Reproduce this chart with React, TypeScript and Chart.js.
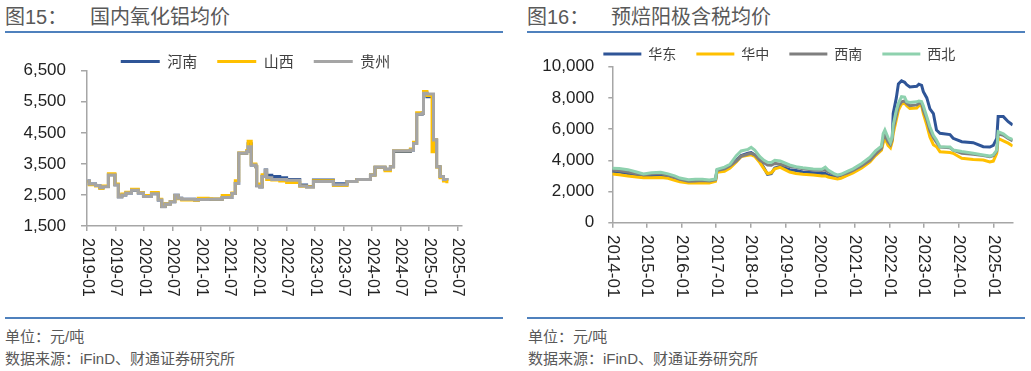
import React, { useEffect, useRef } from 'react';
import { Chart, registerables } from 'chart.js';

Chart.register(...registerables);

// ---------------- 图15 国内氧化铝均价 (元/吨) ----------------
const aluminaTickLabels = [
  '2019-01', '2019-07', '2020-01', '2020-07', '2021-01', '2021-07', '2022-01',
  '2022-07', '2023-01', '2023-07', '2024-01', '2024-07', '2025-01', '2025-07',
];
const aluminaYTicks = [1500, 2500, 3500, 4500, 5500, 6500];
// decimal years of price changes
const aluminaDates = [
  2019.01, 2019.04, 2019.15, 2019.225, 2019.28, 2019.375, 2019.49, 2019.55, 2019.61, 2019.68,
  2019.78, 2019.9, 2019.99, 2020.13, 2020.25, 2020.31, 2020.37, 2020.46, 2020.54, 2020.6,
  2020.66, 2020.89, 2020.95, 2021.125, 2021.19, 2021.37, 2021.54, 2021.6, 2021.66, 2021.8,
  2021.825, 2021.88, 2021.96, 2021.975, 2022.03, 2022.07, 2022.125, 2022.15, 2022.24, 2022.38,
  2022.5, 2022.73, 2022.85, 2022.97, 2023.32, 2023.56, 2023.73, 2023.97, 2024.05, 2024.225,
  2024.32, 2024.375, 2024.67, 2024.725, 2024.78, 2024.875, 2024.9, 2024.96, 2025.05, 2025.075,
  2025.13, 2025.19, 2025.25, 2025.31,
];
const henanPrices = [
  2950, 2850, 2800, 2730, 2770, 3150, 2830, 2440, 2500, 2560,
  2650, 2560, 2460, 2540, 2340, 2130, 2210, 2280, 2490, 2390,
  2360, 2340, 2350, 2360, 2360, 2420, 2550, 2880, 3840, 3900,
  4150, 3460, 3410, 2800, 2760, 3100, 3300, 3130, 3090, 3050,
  3000, 2820, 2770, 2980, 2860, 2930, 3000, 3140, 3390, 3330,
  3410, 3900, 3950, 4160, 5100, 5130, 5780, 5660, 5700, 4270,
  3410, 3090, 3000, 2960,
];
const shanxiPrices = [
  2930, 2830, 2790, 2710, 2790, 3180, 2850, 2450, 2530, 2590,
  2680, 2580, 2480, 2580, 2360, 2150, 2220, 2290, 2470, 2380,
  2340, 2320, 2390, 2380, 2370, 2480, 2560, 2960, 3850, 3930,
  4230, 3500, 3420, 2850, 2780, 3150, 3200, 3000, 2980, 2950,
  2900, 2780, 2760, 2960, 2800, 2930, 3000, 3140, 3390, 3280,
  3410, 3920, 3980, 4200, 5150, 5150, 5830, 5700, 3890, 4270,
  3400, 3050, 2950, 2880,
];
const guizhouPrices = [
  2960, 2850, 2800, 2730, 2760, 3140, 2820, 2430, 2500, 2560,
  2650, 2560, 2450, 2540, 2340, 2120, 2210, 2280, 2490, 2390,
  2360, 2340, 2350, 2360, 2360, 2420, 2550, 2870, 3840, 3900,
  4050, 3460, 3410, 2790, 2750, 3090, 3300, 3050, 3000, 3000,
  2970, 2790, 2750, 2930, 2830, 2930, 3000, 3140, 3390, 3330,
  3410, 3920, 3950, 4160, 5100, 5130, 5770, 5750, 5750, 4270,
  3410, 3090, 3000, 2980,
];

// ---------------- 图16 预焙阳极含税均价 (元/吨) ----------------
const anodeTickLabels = [
  '2014-01', '2015-01', '2016-01', '2017-01', '2018-01', '2019-01',
  '2020-01', '2021-01', '2022-01', '2023-01', '2024-01', '2025-01',
];
const anodeYTicks = [0, 2000, 4000, 6000, 8000, 10000];
const anodeDates = [
  2014.0, 2014.2, 2014.45, 2014.7, 2014.9, 2015.13, 2015.4, 2015.61, 2015.8, 2015.95,
  2016.2, 2016.4, 2016.6, 2016.8, 2016.98, 2017.02, 2017.24, 2017.4, 2017.58, 2017.72,
  2017.92, 2018.01, 2018.11, 2018.26, 2018.38, 2018.48, 2018.59, 2018.69, 2018.85, 2019.12,
  2019.3, 2019.5, 2019.8, 2020.05, 2020.15, 2020.23, 2020.4, 2020.5, 2020.6, 2020.8,
  2020.95, 2021.2, 2021.44, 2021.6, 2021.77, 2021.82, 2021.87, 2021.96, 2022.03, 2022.08,
  2022.11, 2022.2, 2022.26, 2022.35, 2022.44, 2022.5, 2022.59, 2022.79, 2022.85, 2022.93,
  2022.98, 2023.08, 2023.17, 2023.27, 2023.36, 2023.46, 2023.75, 2023.84, 2024.09, 2024.42,
  2024.71, 2024.9, 2025.0, 2025.1, 2025.14, 2025.29, 2025.43, 2025.56,
];
const eastChina = [
  3300, 3250, 3150, 3050, 3000, 3020, 3050, 2950, 2850, 2700,
  2600, 2620, 2630, 2600, 2700, 3300, 3450, 3650, 4000, 4300,
  4450, 4500, 4350, 3950, 3500, 3100, 3150, 3500, 3600, 3400,
  3350, 3250, 3200, 3150, 3150, 3050, 2950, 2850, 2900, 3100,
  3300, 3600, 4000, 4400, 4700, 5300, 5600, 5100, 4950, 5300,
  7000, 8000, 8900, 9100, 9000, 8850, 8700, 8750, 8880, 8800,
  8400, 8000, 7300, 7000, 5940, 5730, 5650, 5410, 5190, 5130,
  4870, 4850, 4950, 5410, 6800, 6800, 6475, 6263,
];
const centralChina = [
  3120, 3080, 3000, 2930, 2880, 2880, 2900, 2850, 2720, 2620,
  2540, 2550, 2560, 2540, 2650, 3230, 3300, 3500, 3900, 4250,
  4330, 4350, 4250, 3850, 3450, 3150, 3200, 3450, 3550, 3250,
  3150, 3100, 3050, 3000, 3000, 2930, 2850, 2800, 2850, 3050,
  3200, 3500, 3900, 4300, 4650, 5100, 5450, 4950, 4800, 5200,
  5700, 6600, 7200, 7600, 7650, 7500, 7330, 7350, 7500, 7500,
  7000, 6260, 5500, 5000, 4870, 4550, 4500, 4450, 4130, 4050,
  4020, 3900, 3950, 4450, 5400, 5250, 5100, 4916,
];
const southwest = [
  3380, 3330, 3250, 3130, 3080, 3120, 3150, 3030, 2900, 2780,
  2650, 2680, 2700, 2670, 2760, 3350, 3450, 3650, 3950, 4250,
  4400, 4450, 4350, 4000, 3850, 3700, 3680, 3800, 3750, 3600,
  3550, 3450, 3380, 3350, 3380, 3250, 3100, 3000, 3050, 3200,
  3350, 3650, 4000, 4400, 4750, 5400, 5600, 5200, 5000, 5350,
  6000, 6900, 7450, 7750, 7800, 7650, 7500, 7550, 7650, 7650,
  7200, 6600, 5900, 5450, 5150, 4850, 4800, 4650, 4450, 4380,
  4300, 4230, 4300, 4600, 5700, 5600, 5400, 5250,
];
const northwest = [
  3490, 3480, 3400, 3250, 3120, 3200, 3230, 3130, 3000, 2860,
  2750, 2780, 2790, 2740, 2800, 3420, 3560, 3750, 4300, 4600,
  4700, 4830, 4650, 4230, 4000, 3870, 3860, 4000, 3950, 3700,
  3590, 3520, 3450, 3420, 3560, 3380, 3150, 3060, 3100, 3300,
  3450, 3800, 4200, 4600, 4900, 5700, 5940, 5450, 5150, 5500,
  6260, 7200, 7650, 8080, 8050, 7750, 7700, 7750, 7800, 7760,
  7500, 6800, 6150, 5600, 5300, 4870, 4850, 4660, 4560, 4450,
  4340, 4270, 4350, 4660, 5830, 5700, 5450, 5340,
];

// ---------------- helpers ----------------
const labelToYear = (l: string) => {
  const [y, m] = l.split('-').map(Number);
  return y + (m - 1) / 12;
};
const toPoints = (xs: number[], ys: number[]) => xs.map((x, i) => ({ x, y: ys[i] }));

const LATIN = "'Liberation Sans', Arial, sans-serif";
const CJK = "'Noto Sans CJK SC', 'Noto Sans', sans-serif";
const AXIS = '#a6a6a6';
const TEXT = '#222222';

// fixes the legend block height and shifts it horizontally
const legendTweakPlugin = {
  id: 'legendTweak',
  beforeLayout(chart: any, _a: any, opts: any) {
    const lg = chart.legend;
    if (lg && !lg.__patched) {
      const fit = lg.fit;
      lg.fit = function () {
        fit.call(this);
        if (opts && typeof opts.height === 'number') this.height = opts.height;
      };
      const draw = lg.draw;
      lg.draw = function (...args: any[]) {
        const ctx = chart.ctx;
        ctx.save();
        ctx.translate(opts.dx || 0, 0);
        draw.apply(this, args);
        ctx.restore();
      };
      lg.__patched = true;
    }
  },
};

const rotatedXLabels = {
  id: 'rotatedXLabels',
  afterDraw(chart: any, _a: any, opts: any) {
    const { ctx } = chart;
    const scale = chart.scales.x;
    const labels: string[] = opts.labels;
    ctx.save();
    ctx.font = opts.font;
    ctx.fillStyle = opts.color;
    ctx.textAlign = 'left';
    ctx.textBaseline = 'middle';
    scale.ticks.forEach((t: any, i: number) => {
      const x = scale.getPixelForValue(t.value);
      ctx.save();
      ctx.translate(x, chart.chartArea.bottom + opts.offset);
      ctx.rotate(Math.PI / 2);
      ctx.fillText(labels[i], 0, 0);
      ctx.restore();
    });
    ctx.restore();
  },
};

interface Series { label: string; values: number[]; color: string; order: number }

function makeConfig(p: {
  dates: number[];
  series: Series[];
  stepped: boolean;
  xTickLabels: string[];
  xMax: number;
  yTicks: number[];
  padR: number;
  yWidth: number;
  xHeight: number;
  legendHeight: number;
  legendDx: number;
  legendFont: number;
  boxWidth: number;
  yTickLen: number;
  yTickPad: number;
  xFont: number;
  xOffset: number;
}): any {
  const xTicks = p.xTickLabels.map(labelToYear);
  return {
    type: 'line',
    data: {
      datasets: p.series.map((s) => ({
        label: s.label,
        data: toPoints(p.dates, s.values),
        borderColor: s.color,
        backgroundColor: s.color,
        borderWidth: 3,
        pointRadius: 0,
        stepped: p.stepped,
        tension: 0,
        fill: false,
        order: s.order,
      })),
    },
    options: {
      responsive: false,
      animation: false,
      events: [],
      layout: { padding: { left: 0, right: p.padR, top: 0, bottom: 0 } },
      scales: {
        x: {
          type: 'linear',
          min: xTicks[0],
          max: p.xMax,
          afterBuildTicks: (axis: any) => {
            axis.ticks = xTicks.map((v) => ({ value: v }));
          },
          afterFit: (scale: any) => {
            scale.height = p.xHeight;
          },
          grid: { display: true, drawOnChartArea: false, drawTicks: true, tickLength: 5, color: AXIS, lineWidth: 1.5 },
          border: { display: true, color: AXIS, width: 1.5 },
          ticks: { display: false },
        },
        y: {
          type: 'linear',
          min: p.yTicks[0],
          max: p.yTicks[p.yTicks.length - 1],
          afterBuildTicks: (axis: any) => {
            axis.ticks = p.yTicks.map((v) => ({ value: v }));
          },
          afterFit: (scale: any) => {
            scale.width = p.yWidth;
          },
          grid: { display: true, drawOnChartArea: false, drawTicks: true, tickLength: p.yTickLen, color: AXIS, lineWidth: 1.5 },
          border: { display: true, color: AXIS, width: 1.5 },
          ticks: {
            color: TEXT,
            padding: p.yTickPad,
            font: { family: LATIN, size: 17 },
            callback: (v: number) => v.toLocaleString('en-US'),
          },
        },
      },
      plugins: {
        tooltip: { enabled: false },
        legend: {
          display: true,
          position: 'top',
          align: 'center',
          labels: {
            boxWidth: p.boxWidth,
            boxHeight: 3,
            padding: 20,
            color: '#404040',
            font: { family: CJK, size: p.legendFont },
            generateLabels: (chart: any) =>
              chart.data.datasets.map((ds: any, i: number) => ({
                text: ds.label,
                fillStyle: ds.borderColor,
                strokeStyle: ds.borderColor,
                lineWidth: 0,
                hidden: false,
                datasetIndex: i,
                fontColor: '#404040',
              })),
          },
        },
        legendTweak: { height: p.legendHeight, dx: p.legendDx },
        rotatedXLabels: {
          labels: p.xTickLabels,
          font: `${p.xFont}px ${LATIN}`,
          color: TEXT,
          offset: p.xOffset,
        },
      },
    },
    plugins: [legendTweakPlugin, rotatedXLabels],
  };
}

function ChartBox({ config, left, top, width, height }: { config: any; left: number; top: number; width: number; height: number }) {
  const ref = useRef<HTMLCanvasElement>(null);
  useEffect(() => {
    const chart = new Chart(ref.current as HTMLCanvasElement, config);
    return () => chart.destroy();
  }, []);
  return (
    <canvas
      ref={ref}
      width={width}
      height={height}
      style={{ position: 'absolute', left, top, width, height }}
    />
  );
}

const leftConfig = makeConfig({
  dates: aluminaDates,
  series: [
    { label: '河南', values: henanPrices, color: '#2F5597', order: 2 },
    { label: '山西', values: shanxiPrices, color: '#FFC000', order: 1 },
    { label: '贵州', values: guizhouPrices, color: '#A5A5A5', order: 0 },
  ],
  stepped: true,
  xTickLabels: aluminaTickLabels,
  xMax: 2025.575,
  yTicks: aluminaYTicks,
  padR: 48,
  yWidth: 87,
  xHeight: 80,
  legendHeight: 36.7,
  legendDx: 24.5,
  legendFont: 15,
  boxWidth: 39,
  yTickLen: 6,
  yTickPad: 15,
  xFont: 16,
  xOffset: 12,
});

const rightConfig = makeConfig({
  dates: anodeDates,
  series: [
    { label: '华东', values: eastChina, color: '#2F5597', order: 3 },
    { label: '华中', values: centralChina, color: '#FFC000', order: 2 },
    { label: '西南', values: southwest, color: '#7F7F7F', order: 1 },
    { label: '西北', values: northwest, color: '#8ED1AE', order: 0 },
  ],
  stepped: false,
  xTickLabels: anodeTickLabels,
  xMax: 2025.56,
  yTicks: anodeYTicks,
  padR: 18.3,
  yWidth: 97.3,
  xHeight: 80.3,
  legendHeight: 39.7,
  legendDx: 15.5,
  legendFont: 14,
  boxWidth: 38,
  yTickLen: 4,
  yTickPad: 14,
  xFont: 17,
  xOffset: 12.3,
});

const FONT = "'Liberation Sans', 'Noto Sans CJK SC', sans-serif";

const titleStyle: React.CSSProperties = {
  position: 'absolute',
  top: 7,
  fontSize: 20,
  lineHeight: '20px',
  color: '#595959',
  fontFamily: FONT,
  whiteSpace: 'nowrap',
};
const noteStyle: React.CSSProperties = {
  position: 'absolute',
  fontSize: 15,
  lineHeight: '15px',
  color: '#595959',
  fontFamily: FONT,
  whiteSpace: 'nowrap',
};
const ruleStyle: React.CSSProperties = {
  position: 'absolute',
  height: 2,
  width: 498,
  background: '#4F81BD',
};

export default function App() {
  return (
    <div style={{ position: 'absolute', left: 0, top: 0, width: 1031, height: 371, background: '#fff', overflow: 'hidden' }}>
      {/* left panel */}
      <div style={{ ...titleStyle, left: 5 }}>图15：</div>
      <div style={{ ...titleStyle, left: 90 }}>国内氧化铝均价</div>
      <div style={{ ...ruleStyle, left: 5, top: 31 }} />
      <ChartBox config={leftConfig} left={0} top={34} width={510} height={272} />
      <div style={{ ...ruleStyle, left: 5, top: 317 }} />
      <div style={{ ...noteStyle, left: 5, top: 329 }}>单位：元/吨</div>
      <div style={{ ...noteStyle, left: 5, top: 351 }}>数据来源：iFinD、财通证券研究所</div>

      {/* right panel */}
      <div style={{ ...titleStyle, left: 527 }}>图16：</div>
      <div style={{ ...titleStyle, left: 611 }}>预焙阳极含税均价</div>
      <div style={{ ...ruleStyle, left: 527, top: 31 }} />
      <ChartBox config={rightConfig} left={515} top={27} width={516} height={276} />
      <div style={{ ...ruleStyle, left: 527, top: 317 }} />
      <div style={{ ...noteStyle, left: 528, top: 329 }}>单位：元/吨</div>
      <div style={{ ...noteStyle, left: 528, top: 351 }}>数据来源：iFinD、财通证券研究所</div>
    </div>
  );
}
